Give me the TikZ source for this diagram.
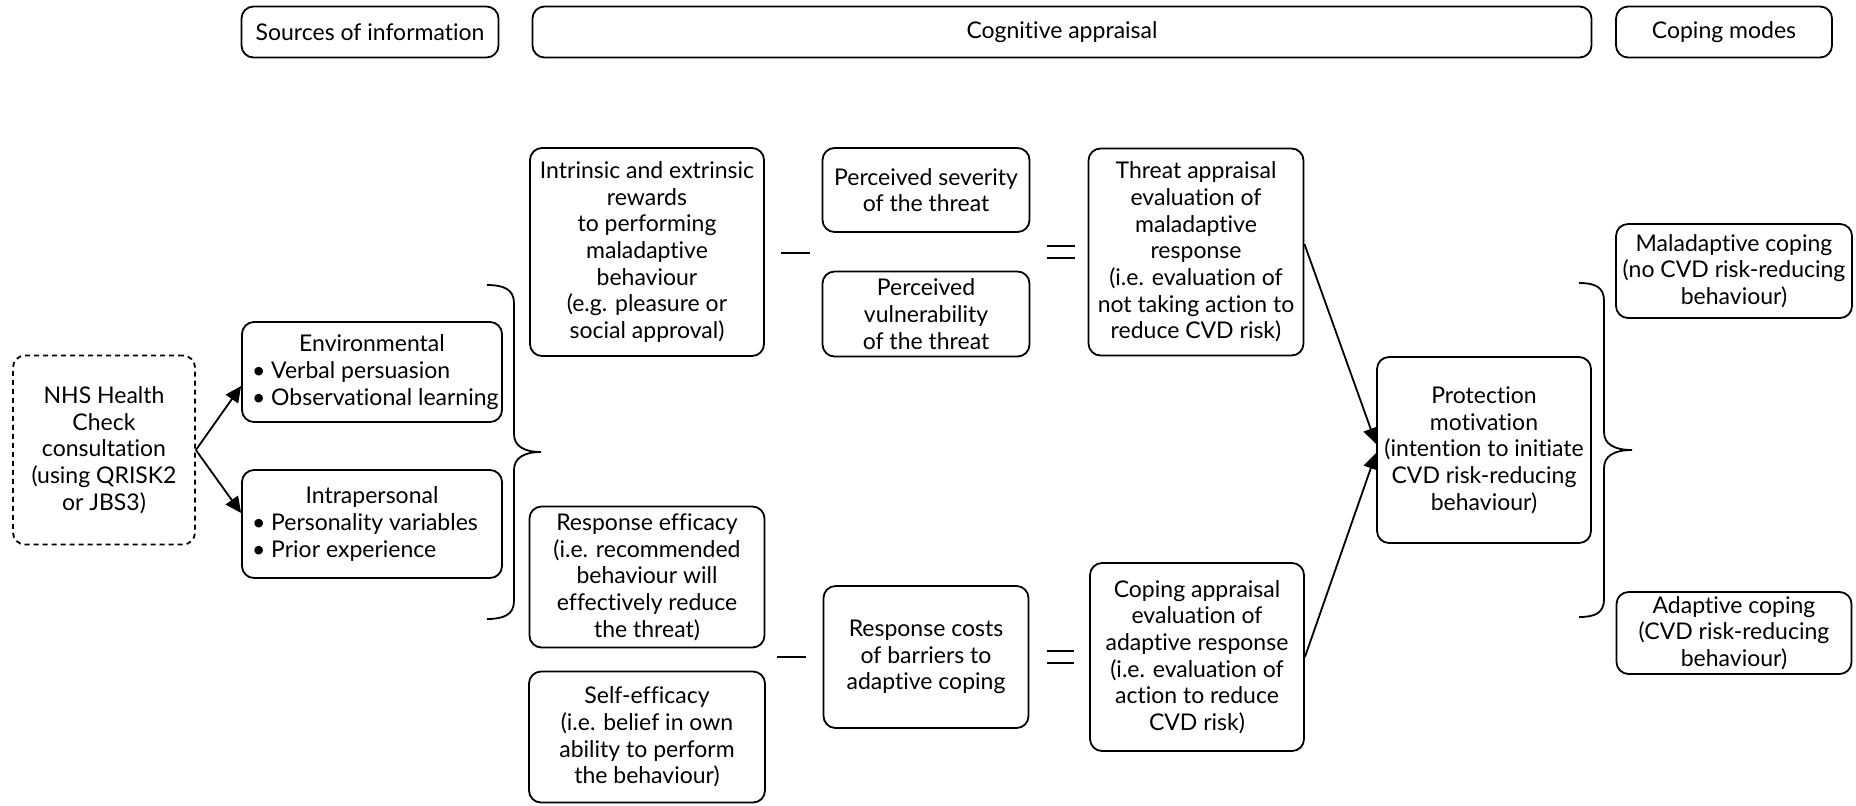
\documentclass[tikz,border=0pt]{standalone}
\usepackage{fontspec}
\setmainfont{Lato}[Ligatures=NoCommon]
\usetikzlibrary{arrows.meta}
\begin{document}
\begin{tikzpicture}[x=0.5pt,y=-0.5pt,
  box/.style={draw, line width=0.9pt, rounded corners=6pt, align=center, inner sep=0pt,
    font=\fontsize{11.5}{13.35}\selectfont},
  arr/.style={line width=0.9pt, -{Triangle[length=8pt,width=7.5pt]}},
  sym/.style={line width=0.8pt},
  brace/.style={line width=0.9pt}]
\useasboundingbox (0,0) rectangle (1856,805);

% headers
\node[box, minimum width=128.5pt, minimum height=25.5pt] (src) at (370,32) {Sources of information};
\node[box, minimum width=529.5pt, minimum height=25.5pt] (cog) at (1062,32) {Cognitive appraisal};
\node[box, minimum width=108pt, minimum height=25.5pt] (cop) at (1724,32) {Coping modes};

% sources
\node[box, dash pattern=on 2.5pt off 2pt, minimum width=91pt, minimum height=94.5pt] (nhs) at (104,450)
  {NHS Health\\Check\\consultation\\(using QRISK2\\or JBS3)};
\node[box, minimum width=130pt, minimum height=50pt] (env) at (372,372)
  {\makebox[120pt]{Environmental}\\\makebox[120pt][l]{\textbullet\ Verbal persuasion}\\\makebox[120pt][l]{\textbullet\ Observational learning}};
\node[box, minimum width=130pt, minimum height=54pt] (intra) at (372,524)
  {\makebox[120pt]{Intrapersonal}\\\makebox[120pt][l]{\textbullet\ Personality variables}\\\makebox[120pt][l]{\textbullet\ Prior experience}};

% threat side
\node[box, minimum width=117pt, minimum height=104pt] (intr) at (647,252)
  {Intrinsic and extrinsic\\rewards\\to performing\\maladaptive\\behaviour\\(e.g. pleasure or\\social approval)};
\node[box, minimum width=103.5pt, minimum height=42pt] (sev) at (926,190)
  {Perceived severity\\of the threat};
\node[box, minimum width=103.5pt, minimum height=42.5pt] (vul) at (926,314)
  {Perceived\\vulnerability\\of the threat};
\node[box, minimum width=107.5pt, minimum height=103.5pt] (threat) at (1196,252)
  {Threat appraisal\\evaluation of\\maladaptive\\response\\(i.e. evaluation of\\not taking action to\\reduce CVD risk)};

% coping side
\node[box, minimum width=117.5pt, minimum height=70.5pt] (reff) at (647,577)
  {Response efficacy\\(i.e. recommended\\behaviour will\\effectively reduce\\the threat)};
\node[box, minimum width=118pt, minimum height=65.5pt] (self) at (647,737)
  {Self-efficacy\\(i.e. belief in own\\ability to perform\\the behaviour)};
\node[box, minimum width=102.5pt, minimum height=71pt] (cost) at (926,657)
  {Response costs\\of barriers to\\adaptive coping};
\node[box, minimum width=107pt, minimum height=94pt] (capp) at (1197,657)
  {Coping appraisal\\evaluation of\\adaptive response\\(i.e. evaluation of\\action to reduce\\CVD risk)};

% outcome
\node[box, minimum width=107pt, minimum height=93pt] (prot) at (1484,450)
  {Protection\\motivation\\(intention to initiate\\CVD risk-reducing\\behaviour)};
\node[box, minimum width=118pt, minimum height=47pt] (mal) at (1734,271)
  {Maladaptive coping\\(no CVD risk-reducing\\behaviour)};
\node[box, minimum width=117.5pt, minimum height=41pt] (ada) at (1734,633)
  {Adaptive coping\\(CVD risk-reducing\\behaviour)};

% arrows
\draw[arr] (nhs.east) -- ([yshift=-7pt]env.west);
\draw[arr] (nhs.east) -- ([yshift=5.5pt]intra.west);
\draw[arr] ([yshift=4pt]threat.east) -- ([yshift=3pt]prot.west);
\draw[arr] (capp.east) -- ([yshift=-1.5pt]prot.west);

% minus and equals signs
\draw[sym] (781,253) -- (810,253);
\draw[sym] (1047,246) -- (1075,246);
\draw[sym] (1047,258) -- (1075,258);
\draw[sym] (777,657) -- (806,657);
\draw[sym] (1047,651) -- (1074,651);
\draw[sym] (1047,663) -- (1074,663);

% left brace
\coordinate (lbtop) at (487,285);
\coordinate (lbtip) at (541,452);
\coordinate (lbbot) at (487,619);
\draw[brace] (lbtop) .. controls (503,285) and (514,289) .. (514,303) -- (514,434)
  .. controls (514,446) and (524,452) .. (lbtip)
  .. controls (524,452) and (514,458) .. (514,470) -- (514,601)
  .. controls (514,615) and (503,619) .. (lbbot);

% right brace
\coordinate (rbtop) at (1579,283);
\coordinate (rbtip) at (1632,450);
\coordinate (rbbot) at (1579,617);
\draw[brace] (rbtop) .. controls (1595,283) and (1604,287) .. (1604,301) -- (1604,432)
  .. controls (1604,444) and (1614,450) .. (rbtip)
  .. controls (1614,450) and (1604,456) .. (1604,468) -- (1604,599)
  .. controls (1604,613) and (1595,617) .. (rbbot);
\end{tikzpicture}
\end{document}
